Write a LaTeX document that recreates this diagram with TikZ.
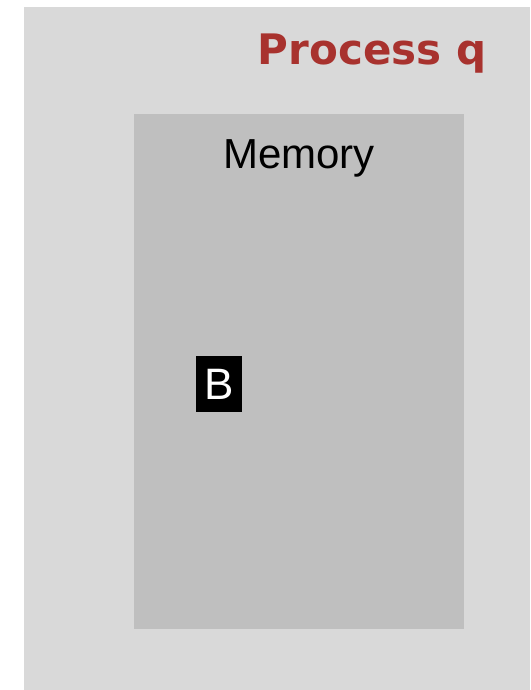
\documentclass[tikz,border=0pt]{standalone}
\usepackage{fontspec}
\setmainfont{Liberation Sans}
\newfontfamily\titlefont{DejaVu Sans}
\usetikzlibrary{positioning}

\definecolor{procred}{HTML}{A8322E}
\definecolor{procgray}{HTML}{D9D9D9}
\definecolor{memgray}{HTML}{BFBFBF}

\begin{document}
\begin{tikzpicture}[
        x=1pt, y=-1pt,
        area/.style={rectangle, anchor=north west, inner sep=0pt},
        cell/.style={rectangle, fill=black, text=white, inner sep=0pt,
                     minimum width=46pt, minimum height=56pt,
                     font=\fontsize{44}{44}\selectfont}
    ]
        \useasboundingbox (0,0) rectangle (530,690);

        % --- PROCESS AND ITS MEMORY ---
        \node[area, fill=procgray, minimum width=506pt, minimum height=683pt] (proc) at (24,7) {};
        \node[area, fill=memgray, minimum width=330pt, minimum height=515pt] (mem) at (134,114) {};

        % --- LABELS ---
        \node[anchor=base, inner sep=0pt, text=procred,
              font=\titlefont\bfseries\fontsize{42}{42}\selectfont] (title) at (372,65) {Process q};
        \node[anchor=base, inner sep=0pt, font=\fontsize{42}{42}\selectfont] (memlabel) at (299,168) {Memory};

        % --- BUFFER ---
        \node[cell] (buf) at (219,384) {B};

    \end{tikzpicture}
\end{document}
